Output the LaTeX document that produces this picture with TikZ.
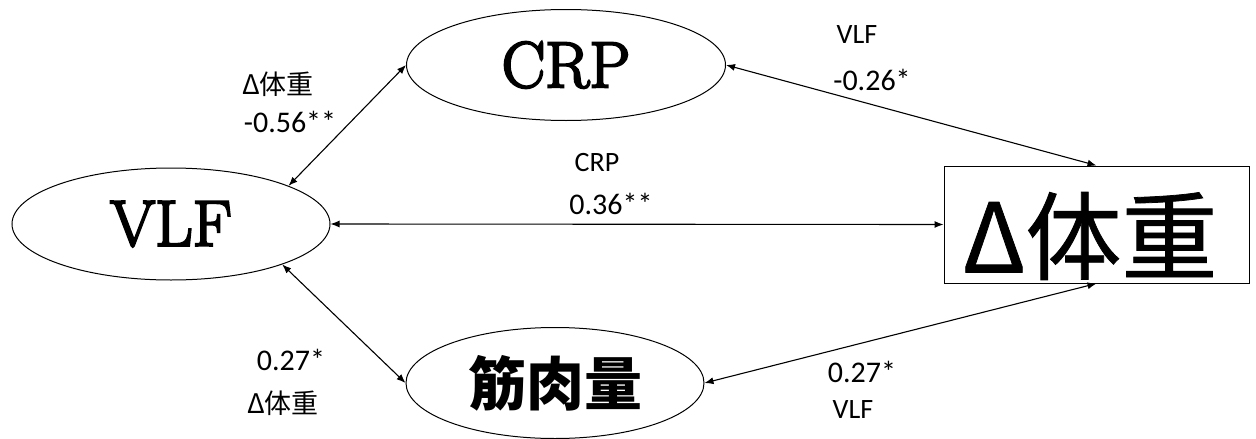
\documentclass[tikz,border=0pt]{standalone}
\usepackage{fontspec}
\newfontfamily\cjk{Noto Sans CJK JP}
\newfontfamily\cjkm[FakeBold=0.8]{Noto Sans CJK JP}
\newfontfamily\lab{Carlito}
\newfontfamily\heavy[FakeBold=3.5]{Latin Modern Roman}
\usetikzlibrary{shapes.geometric,arrows.meta}
\begin{document}
\begin{tikzpicture}[x=1pt,y=-1pt,
  ell/.style={draw,ellipse,line width=1pt,inner sep=0pt},
  conn/.style={line width=1.1pt,{Latex[length=9pt,width=7pt]}-{Latex[length=9pt,width=7pt]}},
  lbl/.style={font=\lab\fontsize{28}{32}\selectfont,inner sep=0pt},
  num/.style={font=\lab\fontsize{30}{34}\selectfont,inner sep=0pt},
  jlbl/.style={font=\cjk\fontsize{27}{30}\selectfont,inner sep=0pt}]
\useasboundingbox (0,0) rectangle (1256,439);
% main nodes
\node[ell,minimum width=319pt,minimum height=111pt,font=\heavy\fontsize{65}{70}\selectfont] (crp) at (566,65) {CRP};
\node[ell,minimum width=318pt,minimum height=112pt,font=\heavy\fontsize{65}{70}\selectfont] (vlf) at (171,224) {VLF};
\node[ell,minimum width=298pt,minimum height=111pt,font=\cjk\bfseries\fontsize{58}{62}\selectfont] (mus) at (555,383) {筋肉量};
\node[draw,line width=1pt,minimum width=305pt,minimum height=117pt,inner sep=0pt] (delta) at (1096.5,224.5) {};
\node[inner sep=0pt,font=\cjkm\fontsize{96}{100}\selectfont] (deltatext) at (1090,236) {Δ体重};
% connectors
\draw[conn] (vlf.18.6) -- (crp.west);
\draw[conn] (crp.east) -- (delta.north);
\draw[conn] (vlf.east) -- (delta.west);
\draw[conn] (vlf.-20) -- (mus.west);
\draw[conn] (mus.east) -- (delta.south);
% labels
\node[jlbl] (l1) at (278,84) {Δ体重};
\node[num] (l2) at (290,122) {-0.56**};
\node[lbl] (l3) at (857,35) {VLF};
\node[num] (l4) at (872,80) {-0.26*};
\node[lbl] (l5) at (597,163) {CRP};
\node[num] (l6) at (611,204) {0.36**};
\node[num] (l7) at (291,360) {0.27*};
\node[jlbl] (l8) at (283,403) {Δ体重};
\node[num] (l9) at (862,372) {0.27*};
\node[lbl] (l10) at (853,410) {VLF};
\end{tikzpicture}
\end{document}
